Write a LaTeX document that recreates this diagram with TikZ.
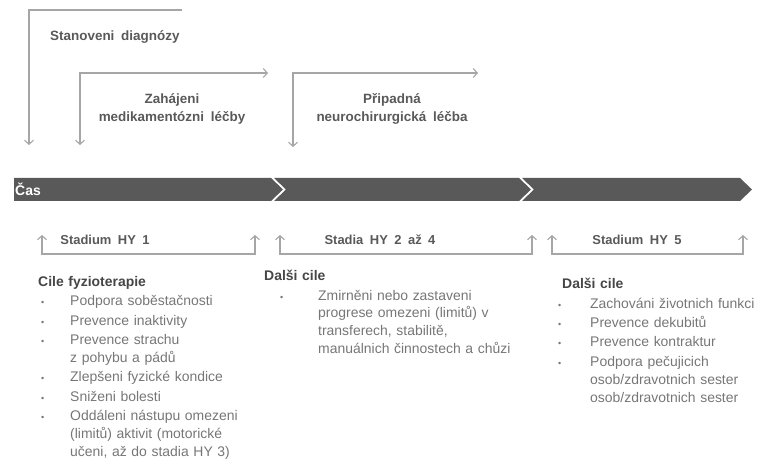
\documentclass[tikz,border=0pt]{standalone}
\usepackage{fontspec}
\setmainfont{Liberation Sans}[WordSpace=1.8]
\usetikzlibrary{arrows.meta}
\definecolor{BarGray}{RGB}{89,89,89}
\definecolor{LineGray}{RGB}{166,166,166}
\definecolor{HeadGray}{RGB}{70,70,70}
\definecolor{MileGray}{RGB}{89,89,89}
\definecolor{TextGray}{RGB}{118,118,118}
\newlength\bulletskip
\newlength\goalskip
\newcommand\goal{\par\noindent\hangindent=\goalskip\hangafter=1\makebox[\goalskip][l]{\hspace{\bulletskip}{\small\textbullet}}}
\tikzset{
  >={Straight Barb[length=4bp,width=9bp]},
  span/.style={draw=LineGray,line width=1.1bp},
  phase/.style={fill=BarGray},
  milestone/.style={font=\fontsize{13.5}{18}\selectfont\bfseries,text=MileGray,align=center,inner sep=0pt},
  stage/.style={font=\fontsize{13}{16}\selectfont\bfseries,text=MileGray,inner sep=0pt},
  timelabel/.style={font=\fontsize{14}{16}\selectfont\bfseries,text=white,inner sep=0pt},
  goals/.style 2 args={anchor=north west,inner sep=0pt,align=left,text=TextGray,
    font=\fontsize{14}{18}\selectfont\setlength\parskip{1.5bp}\setlength\bulletskip{#1}\setlength\goalskip{#2}}
}
\begin{document}
\begin{tikzpicture}[x=1bp,y=-1bp]
  \useasboundingbox (0,0) rectangle (769,464);
  % milestones
  \coordinate (diagEnd) at (182,10);
  \coordinate (diagDown) at (29,145);
  \node[milestone,anchor=west] (diag) at (50,37) {Stanoveni diagnózy};
  \draw[span,->] (diagEnd) -| (diagDown);
  \coordinate (medDown) at (80,145);
  \coordinate (medEnd) at (268,73);
  \node[milestone] (med) at (172,109) {Zahájeni\\medikamentózni léčby};
  \draw[span,<->] (medDown) |- (medEnd);
  \coordinate (surDown) at (293,147);
  \coordinate (surEnd) at (478,73);
  \node[milestone] (sur) at (392,109) {Připadná\\neurochirurgická léčba};
  \draw[span,<->] (surDown) |- (surEnd);
  % time bar
  \fill[phase] (14,178) -- (271,178) -- (283,189.5) -- (271,201) -- (14,201) -- cycle;
  \fill[phase] (274,178) -- (519,178) -- (531,189.5) -- (519,201) -- (274,201) -- (286,189.5) -- cycle;
  \fill[phase] (522,178) -- (740,178) -- (752,189.5) -- (740,201) -- (522,201) -- (534,189.5) -- cycle;
  \node[timelabel,anchor=west] (time) at (15,189) {Čas};
  % stages
  \coordinate (stageLine) at (0,254);
  \coordinate (hy1L) at (42,235); \coordinate (hy1R) at (255,235);
  \coordinate (hy24L) at (280,235); \coordinate (hy24R) at (532,235);
  \coordinate (hy5L) at (552,235); \coordinate (hy5R) at (743,235);
  \draw[span,<->] (hy1L) -- (hy1L |- stageLine) -- (hy1R |- stageLine) -- (hy1R);
  \draw[span,<->] (hy24L) -- (hy24L |- stageLine) -- (hy24R |- stageLine) -- (hy24R);
  \draw[span,<->] (hy5L) -- (hy5L |- stageLine) -- (hy5R |- stageLine) -- (hy5R);
  \node[stage] (hy1) at (105,240) {Stadium HY 1};
  \node[stage] (hy24) at (380,240) {Stadia HY 2 až 4};
  \node[stage] (hy5) at (637,240) {Stadium HY 5};
  % goals
  \node[goals={3bp}{32bp},text width=225bp] (goals1) at (38,276) {{\color{HeadGray}\bfseries Cile fyzioterapie}
    \goal Podpora soběstačnosti
    \goal Prevence inaktivity
    \goal Prevence strachu\newline z pohybu a pádů
    \goal Zlepšeni fyzické kondice
    \goal Sniženi bolesti
    \goal Oddáleni nástupu omezeni\newline (limitů) aktivit (motorické\newline učeni, až do stadia HY 3)\par};
  \node[goals={16bp}{54bp},text width=270bp] (goals2) at (264,270) {{\color{HeadGray}\bfseries Dalši cile}
    \goal Zmirněni nebo zastaveni\newline progrese omezeni (limitů) v\newline transferech, stabilitě,\newline manuálnich činnostech a chůzi\par};
  \node[goals={-4bp}{28bp},text width=207bp] (goals3) at (562,278) {{\color{HeadGray}\bfseries Dalši cile}
    \goal Zachováni životnich funkci
    \goal Prevence dekubitů
    \goal Prevence kontraktur
    \goal Podpora pečujicich\newline osob/zdravotnich sester\newline osob/zdravotnich sester\par};
\end{tikzpicture}
\end{document}
